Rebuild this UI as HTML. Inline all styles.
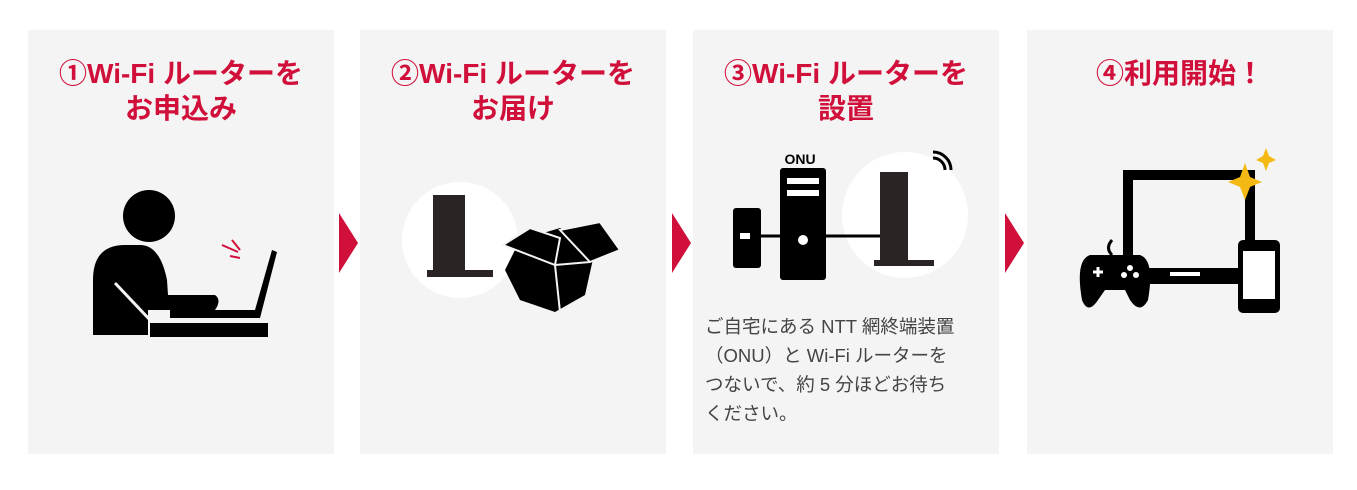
<!DOCTYPE html>
<html><head><meta charset="utf-8"><style>
body{margin:0;width:1357px;height:490px;background:#fff;overflow:hidden;position:relative;font-family:"Liberation Sans","Noto Sans CJK JP",sans-serif}
.p{position:absolute;top:30px;width:306px;height:424px;background:#f4f4f4}
.t{position:absolute;top:56px;width:306px;text-align:center;color:#d0103a;font-weight:bold;font-size:28px;line-height:35px;letter-spacing:0px}
.ar{position:absolute;top:213px;width:0;height:0;border-top:30px solid transparent;border-bottom:30px solid transparent;border-left:19px solid #d0103a}
.d{position:absolute;left:705px;top:312px;width:300px;font-size:18.5px;line-height:29px;color:#444;white-space:nowrap}
svg{position:absolute;left:0;top:0}
</style></head><body>
<div class="p" style="left:28px"></div>
<div class="p" style="left:360px"></div>
<div class="p" style="left:693px"></div>
<div class="p" style="left:1027px"></div>
<div class="t" style="left:28px">①Wi-Fi ルーターを<br>お申込み</div>
<div class="t" style="left:360px">②Wi-Fi ルーターを<br>お届け</div>
<div class="t" style="left:693px">③Wi-Fi ルーターを<br>設置</div>
<div class="t" style="left:1027px">④利用開始！</div>
<div class="ar" style="left:339px"></div>
<div class="ar" style="left:672px"></div>
<div class="ar" style="left:1005px"></div>
<div class="d">ご自宅にある NTT 網終端装置<br>（ONU）と Wi-Fi ルーターを<br>つないで、約 5 分ほどお待ち<br>ください。</div>
<svg width="1357" height="490">
<circle cx="149" cy="216" r="26" fill="#000"/>
<path d="M93 335 V280 Q93 245 125 245 H140 Q160 245 167 280 L168 295 H215 Q222 300 215 310 H148 V335 Z" fill="#000"/>
<path d="M115 283 L150 320" stroke="#f4f4f4" stroke-width="3"/>
<rect x="150" y="323" width="118" height="14" fill="#000"/>
<path d="M170 310 H255 L272 250 L277 252 L260 318 H170 Z" fill="#000"/>
<path d="M222 245 L238 252 M232 240 L240 250 M230 256 L240 258" stroke="#d0103a" stroke-width="2"/>
<circle cx="460" cy="240" r="58" fill="#fff"/>
<rect x="433" y="195" width="32" height="75" fill="#2b2424"/>
<rect x="427" y="270" width="66" height="7" fill="#2b2424"/>
<path d="M505 270 L520 240 L560 228 L595 250 L585 295 L555 312 L520 300 Z" fill="#000"/>
<path d="M503 245 L530 228 L560 238 L555 265 Z M560 230 L600 222 L620 250 L590 262 Z" fill="#000" stroke="#f4f4f4" stroke-width="2"/>
<path d="M555 265 L560 312 M555 265 L590 262" stroke="#f4f4f4" stroke-width="2"/>
<text x="800" y="164" font-size="14" font-weight="bold" text-anchor="middle">ONU</text>
<circle cx="905" cy="215" r="63" fill="#fff"/>
<rect x="733" y="208" width="28" height="60" rx="3" fill="#000"/>
<rect x="740" y="233" width="10" height="6" fill="#fff"/>
<line x1="760" y1="236" x2="880" y2="236" stroke="#000" stroke-width="3"/>
<rect x="780" y="168" width="46" height="112" rx="3" fill="#000"/>
<rect x="787" y="178" width="32" height="6" fill="#fff"/><rect x="787" y="190" width="32" height="6" fill="#fff"/>
<circle cx="803" cy="240" r="5" fill="#fff"/>
<rect x="880" y="172" width="28" height="90" fill="#2b2424"/>
<rect x="874" y="260" width="60" height="6" fill="#2b2424"/>
<path d="M933 158 A12 12 0 0 1 945 170 M933 152 A18 18 0 0 1 951 170" stroke="#000" stroke-width="3" fill="none"/>
<rect x="1128" y="175" width="122" height="100" fill="none" stroke="#000" stroke-width="10"/>
<rect x="1123" y="268" width="132" height="16" fill="#000"/>
<rect x="1170" y="272" width="30" height="4" fill="#fff"/>
<rect x="1238" y="240" width="42" height="73" rx="5" fill="#000"/>
<rect x="1243" y="251" width="32" height="48" fill="#fff"/>
<path d="M1082 300 Q1075 260 1090 255 H1140 Q1155 260 1148 300 Q1140 315 1130 300 L1125 290 H1105 L1098 300 Q1088 315 1082 300 Z" fill="#000"/>
<path d="M1112 255 Q1105 248 1112 240" stroke="#000" stroke-width="3" fill="none"/>
<path d="M1093 272 H1103 M1098 267 V277" stroke="#fff" stroke-width="3"/>
<circle cx="1130" cy="268" r="3" fill="#fff"/><circle cx="1136" cy="275" r="3" fill="#fff"/><circle cx="1124" cy="275" r="3" fill="#fff"/>
<path d="M1245 163 L1250 177 L1262 182 L1250 187 L1245 200 L1240 187 L1228 182 L1240 177 Z" fill="#f5b914"/>
<path d="M1266 148 L1269 156 L1276 160 L1269 163 L1266 171 L1263 163 L1256 160 L1263 156 Z" fill="#f5b914"/>
</svg>
</body></html>
